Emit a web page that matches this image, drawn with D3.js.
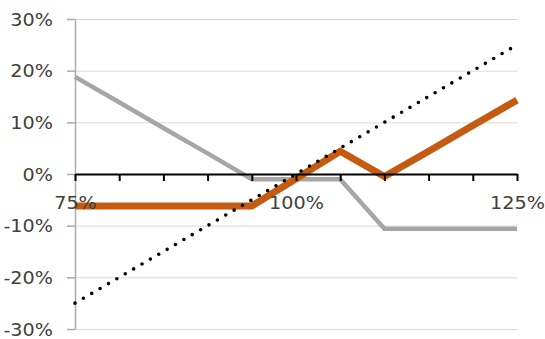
<!DOCTYPE html>
<html>
<head>
<meta charset="utf-8">
<script src="https://cdn.jsdelivr.net/npm/d3@7/dist/d3.min.js"></script>
<style>
  html, body { margin: 0; padding: 0; background: #fff; }
  svg { display: block; }
  text { font-family: "DejaVu Sans", Verdana, sans-serif; }
</style>
</head>
<body>
<svg id="chart" width="545" height="339"></svg>
<script>
// ---- data ----
const categories = [75, 80, 85, 90, 95, 100, 105, 110, 115, 120, 125];
const orangeSeries = [-6.2, -6.2, -6.2, -6.2, -6.2, -0.9, 4.4, -0.5, 4.4, 9.4, 14.3];
const greySeries = [18.8, 13.9, 8.9, 4.0, -1.0, -1.0, -1.0, -10.6, -10.6, -10.6, -10.6];
const underlyingSeries = [-25, -20, -15, -10, -5, 0, 5, 10, 15, 20, 25];
const yTicks = [-30, -20, -10, 0, 10, 20, 30];
const xLabelCats = [75, 100, 125];

// ---- layout ----
const svg = d3.select("#chart");
const mLeft = 75, mRight = 517, mTop = 19, mBottom = 329;
const x = d3.scalePoint().domain(categories).range([mLeft, mRight]);
const y = d3.scaleLinear().domain([-30, 30]).range([mBottom, mTop]);
const fontSize = 17, stretch = 1.13, textColor = "#404040";

// gridlines
const grid = svg.append("g").attr("transform", `translate(${mLeft},0)`)
  .call(d3.axisLeft(y).tickValues(yTicks.filter(d => d !== 0)).tickSize(-(mRight - mLeft)).tickFormat(""));
grid.select(".domain").remove();
grid.selectAll("line").attr("stroke", "#d9d9d9").attr("stroke-width", 1);

// y axis
const yAxis = svg.append("g").attr("transform", `translate(${mLeft},0)`)
  .call(d3.axisLeft(y).tickValues(yTicks).tickSize(8).tickSizeOuter(0).tickFormat(d => d + "%"));
yAxis.select(".domain").attr("stroke", "#aaaaaa").attr("stroke-width", 1.5);
yAxis.selectAll(".tick line").attr("stroke", "#aaaaaa").attr("stroke-width", 1.5);
yAxis.selectAll(".tick text")
  .attr("x", 0).attr("dy", "0.36em")
  .attr("transform", `translate(-22,0) scale(${stretch},1)`)
  .attr("font-size", fontSize).attr("fill", textColor)
  .attr("font-family", "DejaVu Sans");

// lines
const line = d3.line().x((d, i) => x(categories[i])).y(d => y(d));

svg.append("path").datum(greySeries)
  .attr("d", line).attr("fill", "none")
  .attr("stroke", "#a6a6a6").attr("stroke-width", 4.5).attr("stroke-linejoin", "miter");

svg.append("path").datum(orangeSeries)
  .attr("d", line).attr("fill", "none")
  .attr("stroke", "#c55a11").attr("stroke-width", 7).attr("stroke-linejoin", "miter");

// x axis at 0
const xAxis = svg.append("g").attr("transform", `translate(0,${y(0)})`)
  .call(d3.axisBottom(x).tickSize(7).tickSizeOuter(0)
    .tickFormat(d => xLabelCats.includes(d) ? d + "%" : ""));
xAxis.select(".domain").attr("stroke", "#000").attr("stroke-width", 2);
xAxis.selectAll(".tick line").attr("stroke", "#000").attr("stroke-width", 2);
xAxis.selectAll(".tick text")
  .attr("y", 0).attr("dy", 0)
  .attr("transform", `translate(0,35) scale(${stretch},1)`)
  .attr("font-size", fontSize).attr("fill", textColor)
  .attr("font-family", "DejaVu Sans");

// dotted underlying line
svg.append("path").datum(underlyingSeries)
  .attr("d", line).attr("fill", "none")
  .attr("stroke", "#000").attr("stroke-width", 3.6)
  .attr("stroke-linecap", "round").attr("stroke-dasharray", "0 9.7");
</script>
</body>
</html>
